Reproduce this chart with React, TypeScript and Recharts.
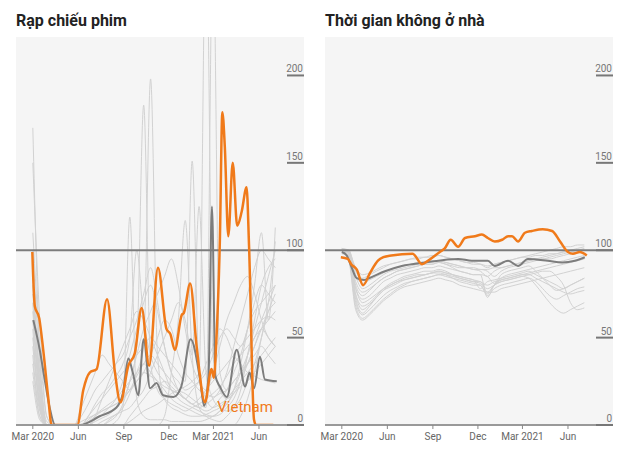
import { LineChart, Line, XAxis, YAxis, CartesianGrid, ReferenceLine, ReferenceDot } from "recharts"

// days counted from 1 Mar 2020
const monthTicks = [0, 92, 184, 275, 365, 457]
const monthLabels = ["Mar 2020", "Jun", "Sep", "Dec", "Mar 2021", "Jun"]
const yTicks = [0, 50, 100, 150, 200]

// fortnightly sampling used by the grey country lines
const gridDays = [0, 14, 28, 42, 56, 70, 84, 98, 112, 126, 140, 154, 168, 182, 196, 210, 224, 238, 252, 266, 280, 294, 308, 322, 336, 350, 364, 378, 392, 406, 420, 434, 448, 462, 476, 490]

// ---- Rạp chiếu phim ----
const cinemaOthers = [
  [170, 40, 0, 0, 0, 0, 0, 0, 2, 5, 8, 10, 12, 15, 20, 25, 30, 28, 25, 22, 20, 18, 15, 12, 10, 12, 15, 20, 30, 45, 60, 75, 90, 100, 95, 90],
  [150, 60, 5, 0, 0, 0, 0, 0, 0, 3, 6, 10, 15, 25, 40, 55, 70, 80, 65, 45, 30, 20, 15, 12, 15, 20, 25, 30, 35, 40, 45, 50, 55, 60, 62, 60],
  [90, 20, 0, 0, 0, 0, 0, 5, 12, 20, 25, 30, 35, 40, 50, 60, 75, 90, 70, 45, 30, 25, 20, 22, 25, 30, 40, 50, 55, 50, 45, 55, 70, 80, 75, 70],
  [70, 15, 0, 0, 0, 0, 0, 0, 0, 0, 0, 0, 2, 10, 119, 15, 5, 3, 3, 3, 2, 2, 2, 2, 2, 3, 5, 8, 12, 18, 25, 35, 45, 55, 50, 45],
  [85, 25, 0, 0, 0, 0, 0, 0, 0, 2, 4, 6, 10, 15, 25, 45, 183, 35, 20, 15, 12, 10, 8, 10, 12, 15, 18, 22, 28, 35, 40, 45, 50, 60, 70, 80],
  [55, 10, 0, 0, 0, 0, 0, 0, 0, 0, 0, 3, 6, 10, 18, 30, 45, 198, 40, 15, 10, 8, 6, 5, 5, 6, 8, 10, 15, 20, 30, 40, 50, 55, 60, 65],
  [40, 5, 0, 0, 0, 0, 0, 0, 5, 10, 15, 20, 25, 30, 35, 40, 45, 50, 45, 40, 35, 30, 25, 151, 30, 15, 10, 12, 15, 20, 25, 30, 35, 40, 45, 50],
  [65, 20, 0, 0, 0, 0, 0, 0, 0, 0, 0, 0, 0, 0, 2, 5, 8, 10, 12, 15, 18, 20, 22, 25, 30, 290, 40, 20, 15, 18, 22, 25, 30, 35, 40, 45],
  [50, 12, 0, 0, 0, 0, 0, 2, 4, 6, 8, 10, 12, 15, 20, 28, 35, 40, 35, 30, 25, 20, 18, 15, 12, 10, 280, 30, 20, 25, 30, 35, 45, 55, 65, 70],
  [35, 8, 0, 0, 0, 0, 0, 0, 0, 0, 2, 4, 6, 8, 10, 15, 20, 30, 40, 50, 60, 70, 60, 40, 125, 30, 15, 10, 8, 10, 15, 25, 35, 50, 65, 75],
  [75, 30, 2, 0, 0, 0, 0, 0, 0, 0, 0, 0, 0, 0, 0, 0, 0, 0, 0, 5, 30, 60, 117, 40, 10, 5, 3, 2, 5, 10, 20, 40, 60, 80, 90, 95],
  [45, 10, 0, 0, 0, 0, 0, 0, 3, 6, 9, 12, 15, 20, 25, 30, 35, 30, 25, 20, 15, 12, 10, 8, 6, 5, 5, 8, 12, 20, 35, 55, 80, 110, 60, 113],
  [100, 35, 0, 0, 0, 0, 0, 0, 0, 5, 15, 25, 35, 45, 55, 65, 60, 50, 40, 30, 20, 15, 12, 10, 8, 6, 5, 6, 10, 15, 25, 40, 55, 70, 85, 100],
  [30, 5, 0, 0, 0, 0, 0, 10, 20, 30, 40, 35, 30, 25, 20, 25, 30, 40, 50, 60, 55, 40, 30, 25, 20, 18, 16, 18, 20, 25, 30, 35, 40, 45, 40, 35],
  [60, 15, 0, 0, 0, 0, 0, 0, 0, 0, 0, 2, 5, 12, 25, 40, 55, 65, 75, 85, 95, 80, 55, 35, 25, 20, 30, 45, 60, 70, 80, 85, 75, 60, 50, 45],
  [25, 3, 0, 0, 0, 0, 0, 0, 0, 0, 0, 0, 0, 0, 5, 10, 15, 20, 22, 25, 22, 18, 15, 12, 10, 8, 10, 15, 20, 30, 40, 55, 65, 70, 75, 80],
  [80, 25, 0, 0, 0, 0, 0, 0, 5, 12, 18, 22, 28, 35, 50, 100, 60, 40, 30, 25, 20, 18, 15, 20, 25, 35, 45, 55, 50, 40, 35, 30, 28, 26, 25, 24],
  [110, 45, 5, 0, 0, 0, 0, 0, 0, 0, 0, 0, 0, 0, 0, 0, 0, 0, 0, 0, 0, 0, 0, 0, 0, 0, 0, 0, 0, 0, 5, 15, 30, 50, 70, 105],
]

const cinemaAvgDays = [1, 14, 24, 34, 45, 95, 135, 169, 182, 193, 202, 213, 224, 237, 250, 263, 284, 300, 319, 338, 346, 355, 362, 369, 378, 392, 412, 429, 438, 447, 459, 469, 493]
const cinemaAvg = [60, 43, 26, 10, 0, 0, 5, 10, 18, 38, 30, 17, 49, 21, 24, 17, 16, 22, 49, 26, 11, 28, 125, 28, 22, 16, 43, 22, 30, 21, 39, 26, 25]

const cinemaVnDays = [-1, 4, 13, 21, 31, 38, 90, 102, 115, 129, 150, 166, 177, 193, 206, 220, 235, 253, 270, 278, 287, 301, 305, 318, 331, 348, 361, 366, 371, 378, 383, 388, 395, 404, 413, 422, 432, 437, 447, 451, 486]
const cinemaVn = [99, 68, 61, 43, 16, 0, 0, 20, 30, 32, 72, 30, 13, 34, 41, 67, 34, 90, 55, 52, 43, 63, 64, 81, 45, 13, 32, 27, 49, 106, 179, 159, 108, 150, 114, 122, 136, 102, 3, 0, 0]

// ---- Thời gian không ở nhà ----
const homeOthers = [
  [100, 98, 72, 64, 68, 73, 77, 80, 82, 84, 85, 86, 86, 87, 87, 86, 84, 82, 81, 80, 80, 74, 78, 80, 81, 82, 83, 84, 82, 78, 74, 72, 74, 76, 78, 79],
  [101, 99, 80, 74, 77, 81, 84, 86, 88, 89, 90, 91, 92, 92, 93, 92, 91, 90, 90, 89, 89, 88, 85, 88, 90, 91, 92, 93, 94, 95, 95, 96, 97, 98, 99, 100],
  [99, 95, 68, 61, 64, 68, 72, 75, 78, 80, 82, 83, 84, 85, 86, 85, 84, 83, 82, 81, 80, 75, 80, 82, 83, 84, 85, 84, 80, 75, 70, 66, 64, 66, 68, 70],
  [100, 100, 88, 84, 86, 88, 90, 92, 93, 94, 95, 96, 96, 97, 97, 96, 95, 94, 93, 92, 92, 91, 92, 93, 94, 95, 96, 97, 98, 99, 100, 101, 102, 102, 103, 103],
  [100, 97, 75, 68, 70, 74, 78, 81, 83, 85, 86, 87, 88, 88, 89, 88, 86, 84, 83, 82, 82, 76, 80, 83, 84, 85, 86, 87, 88, 89, 90, 91, 92, 93, 94, 95],
  [98, 96, 78, 70, 72, 75, 78, 80, 82, 83, 84, 85, 86, 87, 88, 87, 86, 85, 84, 83, 82, 80, 82, 83, 84, 85, 86, 86, 84, 82, 80, 78, 76, 75, 76, 77],
  [100, 99, 85, 78, 80, 83, 86, 88, 89, 90, 91, 92, 93, 94, 94, 93, 92, 91, 90, 89, 88, 85, 88, 90, 91, 92, 93, 94, 95, 95, 96, 97, 98, 99, 100, 101],
  [101, 98, 70, 63, 66, 70, 74, 77, 79, 81, 82, 83, 84, 85, 86, 86, 85, 84, 83, 82, 81, 78, 80, 82, 83, 84, 85, 86, 87, 88, 88, 85, 80, 70, 66, 67],
  [99, 97, 82, 76, 78, 81, 84, 86, 88, 89, 90, 91, 92, 92, 93, 92, 90, 88, 87, 86, 86, 73, 80, 84, 86, 87, 88, 89, 90, 91, 92, 93, 94, 95, 96, 97],
  [100, 96, 74, 66, 69, 73, 77, 79, 81, 83, 84, 85, 86, 87, 88, 87, 86, 85, 84, 83, 78, 82, 83, 84, 85, 86, 87, 88, 86, 84, 82, 80, 78, 80, 82, 84],
  [100, 99, 90, 86, 87, 89, 91, 92, 93, 94, 95, 95, 96, 96, 97, 96, 95, 94, 93, 93, 92, 90, 92, 93, 94, 95, 96, 96, 97, 97, 98, 98, 99, 99, 100, 100],
  [99, 94, 66, 60, 63, 67, 71, 74, 77, 79, 80, 81, 82, 83, 84, 83, 82, 80, 79, 78, 77, 76, 76, 78, 79, 80, 81, 82, 83, 84, 85, 86, 87, 88, 89, 90],
  [100, 98, 78, 72, 74, 78, 82, 84, 86, 87, 88, 89, 90, 90, 91, 90, 89, 88, 87, 86, 86, 85, 81, 86, 88, 89, 90, 91, 88, 84, 80, 77, 78, 80, 82, 84],
  [101, 100, 86, 81, 83, 85, 87, 89, 90, 91, 92, 93, 93, 94, 94, 93, 92, 91, 90, 90, 89, 89, 90, 90, 91, 92, 93, 94, 95, 96, 97, 98, 99, 100, 101, 102],
]

const homeAvgDays = [0, 10, 20, 30, 45, 55, 87, 121, 168, 235, 263, 295, 309, 336, 356, 376, 416, 445, 471, 491]
const homeAvg = [99, 97, 90, 84, 83, 84, 88, 91, 93, 95, 94, 94, 91, 94, 91, 95, 94, 93, 94, 96]

const homeVnDays = [-2, 12, 19, 30, 43, 57, 73, 84, 100, 143, 162, 174, 198, 208, 220, 235, 249, 269, 283, 295, 309, 324, 336, 344, 356, 370, 384, 406, 425, 441, 457, 467, 481, 495]
const homeVn = [96, 95, 92, 89, 80, 87, 94, 96, 97, 98, 92, 94, 99, 101, 106, 102, 107, 108, 109, 107, 105, 106, 108, 108, 105, 110, 111, 112, 111, 105, 99, 98, 99, 97]

const ORANGE = "#f07a1a"
const FONT = "Roboto, 'Noto Sans', sans-serif"

const pts = (days: number[], vals: number[]) => vals.map((v, i) => ({ d: days[i], v }))

// label sits above a short dash that marks the value, both just inside the plot
function YTick(props: any) {
  const { x, y, payload } = props
  return (
    <g>
      <text x={x - 1} y={y - 3} textAnchor="end" fontSize={10} fill="#777" fontFamily={FONT}>
        {payload.value}
      </text>
      <line x1={x - 17} x2={x} y1={y} y2={y} stroke="#777" strokeWidth={2} />
    </g>
  )
}

function Panel({ others, avgDays, avg, vnDays, vn, label }: any) {
  return (
    <LineChart width={310} height={466} margin={{ top: 37, right: 0, left: 16, bottom: 21 }}>
      <CartesianGrid horizontal={false} vertical={false} fill="#f5f5f5" stroke="none" />
      <XAxis
        type="number"
        dataKey="d"
        domain={[-34, 548]}
        ticks={monthTicks}
        tickFormatter={(d: number) => monthLabels[monthTicks.indexOf(d)]}
        height={20}
        axisLine={{ stroke: "#999", strokeWidth: 2 }}
        tickLine={{ stroke: "#888" }}
        tickSize={4}
        tickMargin={4}
        tick={{ fontSize: 10, fill: "#666", fontFamily: FONT }}
        allowDataOverflow
      />
      <YAxis
        type="number"
        orientation="right"
        width={6}
        domain={[0, 222]}
        ticks={yTicks}
        allowDataOverflow
        axisLine={false}
        tickLine={false}
        tickSize={0}
        tickMargin={0}
        tick={YTick}
      />
      {others.map((vals: number[], i: number) => (
        <Line
          key={i}
          data={pts(gridDays, vals)}
          dataKey="v"
          type="monotone"
          stroke="#d2d2d2"
          strokeWidth={1}
          dot={false}
          activeDot={false}
          isAnimationActive={false}
        />
      ))}
      <ReferenceLine y={100} stroke="#7c7c7c" strokeWidth={2} />
      <Line data={pts(avgDays, avg)} dataKey="v" type="monotone" stroke="#7d7d7d" strokeWidth={2} dot={false} activeDot={false} isAnimationActive={false} />
      <Line data={pts(vnDays, vn)} dataKey="v" type="monotone" stroke={ORANGE} strokeWidth={2.5} dot={false} activeDot={false} isAnimationActive={false} />
      {label && (
        <ReferenceDot
          x={429}
          y={10.5}
          r={0}
          fill="none"
          stroke="none"
          label={{ value: label, position: "center", fill: ORANGE, fontSize: 15, fontFamily: FONT }}
        />
      )}
    </LineChart>
  )
}

const titleStyle: any = {
  position: "absolute",
  top: 11,
  fontFamily: FONT,
  fontWeight: 700,
  fontSize: 16,
  lineHeight: "20px",
  color: "#222",
  whiteSpace: "nowrap",
}

export default function App() {
  return (
    <div style={{ position: "absolute", left: 0, top: 0, width: 630, height: 466, background: "#fff", overflow: "hidden" }}>
      <div style={{ position: "absolute", left: 0, top: 0 }}>
        <Panel others={cinemaOthers} avgDays={cinemaAvgDays} avg={cinemaAvg} vnDays={cinemaVnDays} vn={cinemaVn} label="Vietnam" />
      </div>
      <div style={{ position: "absolute", left: 309, top: 0 }}>
        <Panel others={homeOthers} avgDays={homeAvgDays} avg={homeAvg} vnDays={homeVnDays} vn={homeVn} />
      </div>
      <div style={{ ...titleStyle, left: 16 }}>Rạp chiếu phim</div>
      <div style={{ ...titleStyle, left: 325 }}>Thời gian không ở nhà</div>
    </div>
  )
}
